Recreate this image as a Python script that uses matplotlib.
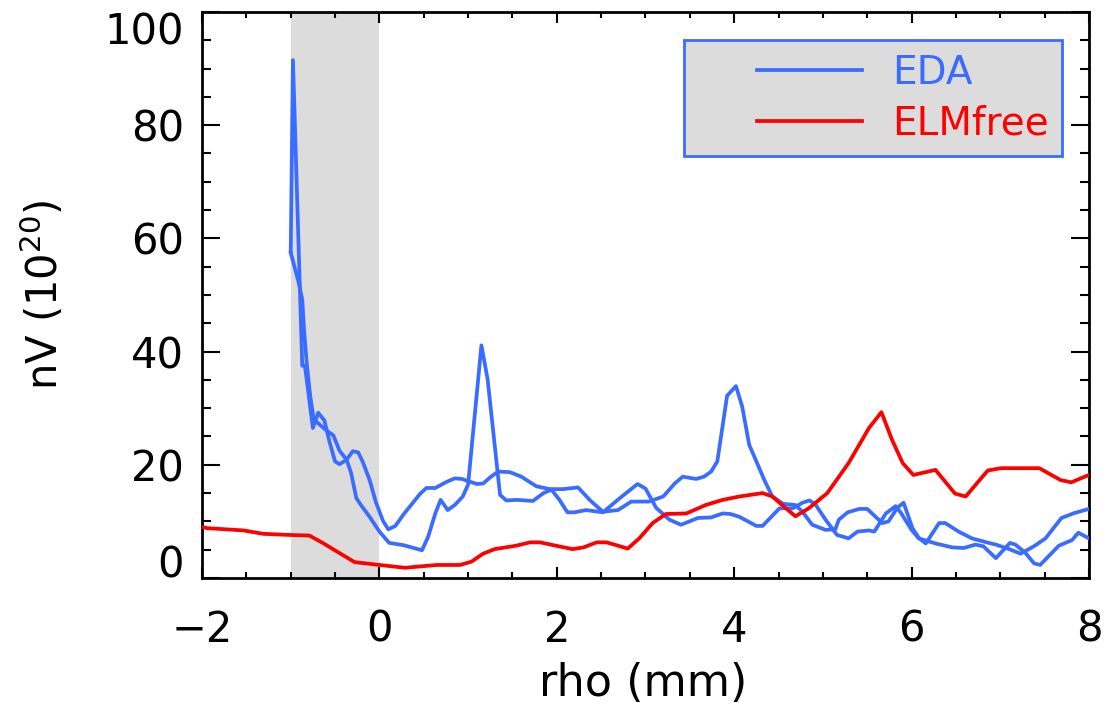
import numpy as np
import matplotlib
matplotlib.use("Agg")
import matplotlib.pyplot as plt
from matplotlib.ticker import MultipleLocator
from matplotlib.legend_handler import HandlerLine2D

# EDA, trace 1 (spike near -1, peak near 4)
eda1_x = [-1.0, -0.975, -0.87, -0.84, -0.75, -0.69, -0.62, -0.56, -0.5, -0.45, -0.37, -0.30, -0.24,
          -0.19, -0.11, -0.04, 0.04, 0.1, 0.18, 0.27, 0.46, 0.53, 0.63, 0.76, 0.85, 0.93, 1.02, 1.1,
          1.17, 1.25, 1.34, 1.47, 1.6, 1.77, 1.92, 2.07, 2.24, 2.37, 2.52, 2.69, 2.84, 3.04, 3.2,
          3.33, 3.42, 3.57, 3.66, 3.74, 3.81, 3.92, 4.02, 4.09, 4.17, 4.25, 4.34, 4.43, 4.55, 4.69,
          4.77, 4.88, 5.03, 5.14, 5.18, 5.28, 5.41, 5.5, 5.67, 5.74, 5.84, 5.91, 6.01, 6.08, 6.16,
          6.31, 6.38, 6.53, 6.68, 6.87, 6.95, 7.10, 7.23, 7.39, 7.51, 7.69, 7.84, 8.0]
eda1_y = [57.5, 91.5, 37.5, 37.5, 26.5, 29.2, 27.8, 23.9, 20.6, 20.1, 20.9, 22.4, 22.2,
          20.6, 17.3, 13.4, 10.1, 8.6, 9.2, 11.2, 14.9, 15.9, 15.9, 17.0, 17.6, 17.5, 17.0, 16.6,
          16.7, 17.8, 18.8, 18.7, 17.9, 16.2, 15.7, 15.7, 16.0, 13.8, 11.7, 12.0, 13.5, 13.5, 14.4,
          16.7, 17.9, 17.5, 17.9, 18.8, 20.6, 32.2, 33.9, 30.3, 23.5, 20.6, 17.3, 14.4, 13.1, 12.9,
          11.7, 9.4, 8.5, 8.6, 10.3, 11.6, 12.2, 12.2, 9.7, 10.0, 12.4, 13.3, 8.8, 7.1, 6.1,
          9.7, 9.7, 8.2, 7.0, 6.2, 5.9, 5.1, 4.3, 5.7, 7.0, 10.6, 11.5, 12.2]

# EDA, trace 2 (peak near 1.2)
eda2_x = [-1.0, -0.97, -0.91, -0.87, -0.85, -0.82, -0.78, -0.74, -0.6, -0.52, -0.45, -0.37, -0.32,
          -0.26, -0.2, -0.11, 0.0, 0.11, 0.27, 0.48, 0.55, 0.63, 0.69, 0.77, 0.85, 0.94, 1.0, 1.15,
          1.22, 1.36, 1.43, 1.55, 1.73, 1.85, 1.94, 2.03, 2.12, 2.2, 2.33, 2.52, 2.71, 2.91, 3.0,
          3.12, 3.27, 3.4, 3.59, 3.74, 3.87, 3.96, 4.06, 4.25, 4.32, 4.51, 4.66, 4.77, 4.85, 4.92,
          5.03, 5.16, 5.29, 5.39, 5.52, 5.58, 5.71, 5.82, 5.88, 6.0, 6.08, 6.27, 6.46, 6.59, 6.72,
          6.81, 6.95, 7.11, 7.17, 7.28, 7.38, 7.45, 7.66, 7.81, 7.88, 8.0]
eda2_y = [57.5, 55.7, 52.2, 49.2, 43.9, 38.0, 32.1, 28.0, 26.1, 25.2, 22.5, 20.9, 18.6,
          14.1, 12.7, 10.8, 8.2, 6.2, 5.8, 4.9, 7.3, 11.4, 13.8, 12.0, 12.9, 14.4, 16.5, 41.1,
          35.1, 14.7, 13.7, 13.8, 13.6, 15.0, 15.6, 13.8, 11.6, 11.6, 12.0, 11.6, 14.1, 16.6, 15.8,
          12.4, 10.3, 9.4, 10.6, 10.7, 11.4, 11.3, 10.8, 9.2, 9.2, 12.3, 12.3, 13.3, 13.7, 12.9,
          10.3, 7.6, 7.0, 8.2, 8.4, 8.2, 11.4, 12.7, 11.5, 8.5, 7.0, 6.1, 5.4, 5.3, 5.9,
          5.6, 3.5, 6.2, 5.9, 4.5, 2.6, 2.3, 5.7, 6.7, 8.0, 7.0]

# ELM-free
elm_x = [-2.0, -1.94, -1.53, -1.31, -1.01, -0.79, -0.64, -0.45, -0.28, -0.11, 0.0, 0.29, 0.5, 0.65,
         0.91, 1.04, 1.17, 1.3, 1.54, 1.7, 1.81, 1.99, 2.18, 2.3, 2.45, 2.56, 2.8, 2.93, 3.08,
         3.23, 3.46, 3.68, 3.87, 4.06, 4.32, 4.43, 4.54, 4.69, 4.84, 5.05, 5.29, 5.52, 5.66, 5.78,
         5.9, 6.02, 6.27, 6.49, 6.61, 6.86, 7.01, 7.44, 7.68, 7.8, 8.0]
elm_y = [9.0, 8.8, 8.4, 7.8, 7.6, 7.5, 6.2, 4.4, 2.8, 2.5, 2.3, 1.8, 2.1, 2.3,
         2.3, 2.9, 4.3, 5.1, 5.7, 6.3, 6.3, 5.7, 5.1, 5.4, 6.3, 6.3, 5.2, 7.0, 9.7,
         11.3, 11.4, 12.9, 13.8, 14.4, 15.0, 14.4, 12.9, 10.9, 12.3, 15.0, 20.3, 26.5, 29.3, 24.4,
         20.3, 18.2, 19.1, 14.9, 14.4, 19.0, 19.4, 19.4, 17.3, 16.9, 18.2]

shade_range = (-1.0, 0.0)
yticks = [0, 20, 40, 60, 80, 100]
xticks = [-2, 0, 2, 4, 6, 8]

blue = "#3a6cff"
red = "#ff0000"

plt.rcParams["font.family"] = ["DejaVu Sans"]
fig = plt.figure(figsize=(11.07, 7.04), dpi=100)
ax = fig.add_axes([0.1825, 0.179, 0.8012, 0.804])

ax.axvspan(shade_range[0], shade_range[1], color="#dcdcdc", zorder=0, lw=0)
ax.plot(eda1_x, eda1_y, color=blue, lw=2.7, label="EDA", zorder=3)
ax.plot(eda2_x, eda2_y, color=blue, lw=2.7, zorder=3)
ax.plot(elm_x, elm_y, color=red, lw=2.7, label="ELMfree", zorder=3)

ax.set_xlim(-2, 8)
ax.set_ylim(0, 100)
ax.set_xticks(xticks)
ax.set_yticks(yticks)
ax.xaxis.set_minor_locator(MultipleLocator(0.5))
ax.yaxis.set_minor_locator(MultipleLocator(5))
ax.tick_params(axis="both", which="both", direction="in", top=True, right=True, width=1.5)
ax.tick_params(axis="x", which="major", length=8, pad=22, labelsize=30)
ax.tick_params(axis="x", which="minor", length=4.3)
ax.tick_params(axis="y", which="major", length=13, pad=13, labelsize=30)
ax.tick_params(axis="y", which="minor", length=6.7)
for s in ax.spines.values():
    s.set_linewidth(2)

# end labels sit inside the axis range, as in the original
yt = ax.yaxis.get_major_ticks()
yt[0].label1.set_verticalalignment("baseline")
yt[-1].label1.set_verticalalignment("top")

ax.set_xlabel("rho (mm)", fontsize=32)
ax.set_ylabel("nV (10$^{20}$)", fontsize=30)
ax.xaxis.set_label_coords(0.497, -0.148)
ax.yaxis.set_label_coords(-0.152, 0.5)

leg = ax.legend(loc="upper right", bbox_to_anchor=(0.9696, 0.9505), borderaxespad=0,
                fontsize=28, handlelength=4.24, handletextpad=0.75, borderpad=0.35,
                labelspacing=0.33, fancybox=False, framealpha=1,
                handler_map={plt.Line2D: HandlerLine2D(xpad=1.54)})
leg.get_frame().set_facecolor("#dcdcdc")
leg.get_frame().set_edgecolor(blue)
leg.get_frame().set_linewidth(2)
for txt, c in zip(leg.get_texts(), [blue, red]):
    txt.set_color(c)

fig.savefig("out.png", dpi=100)
